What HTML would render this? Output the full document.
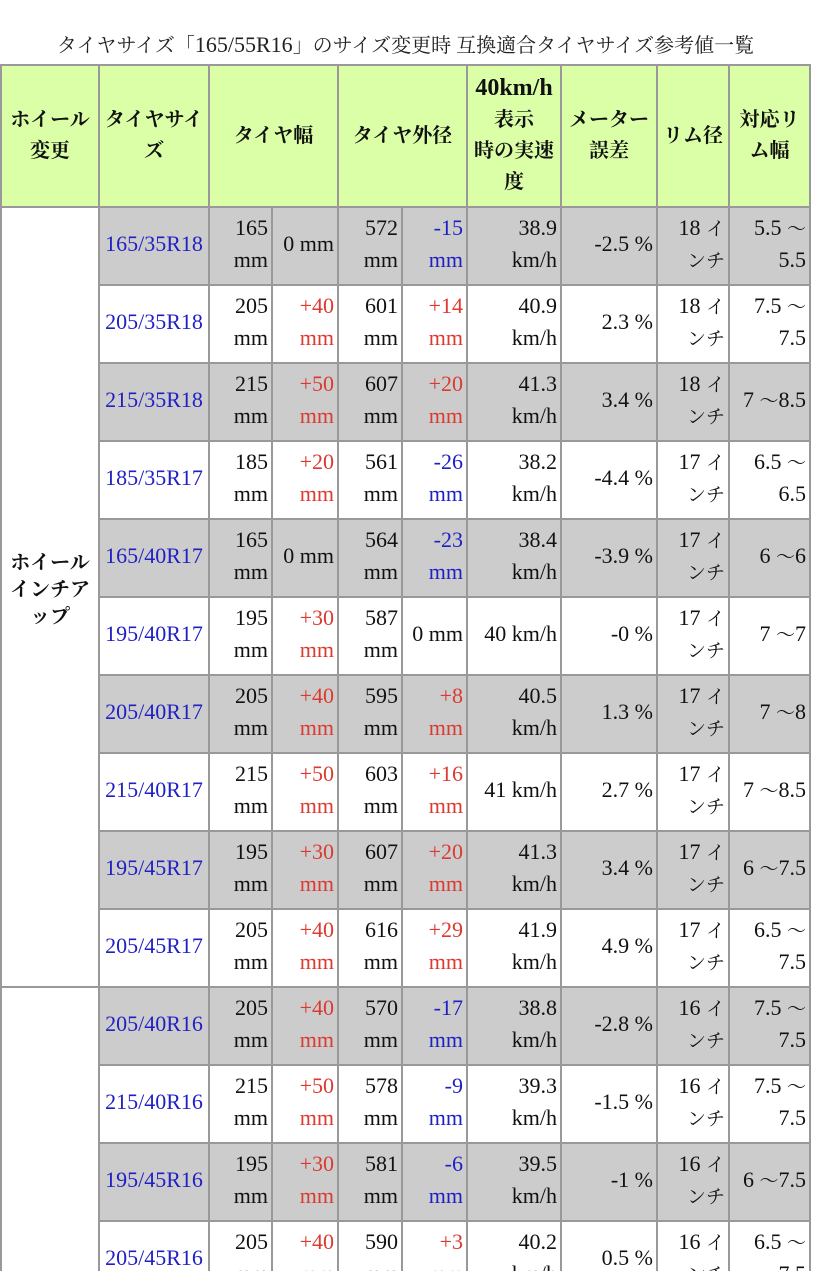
<!DOCTYPE html>
<html><head><meta charset="utf-8">
<style>
html,body{margin:0;padding:0;background:#fff;overflow:hidden;width:828px;height:1271px;}
#wrap{position:relative;width:828px;height:1271px;overflow:hidden;background:#fff;}
.title{position:absolute;top:30px;left:0;width:811px;text-align:center;font:20px/30px "Liberation Serif","Noto Serif CJK SC",serif;color:#222;white-space:nowrap;}
.hbg{position:absolute;left:0;top:64px;width:811px;height:144px;background:#dbffa7;}
.h{position:absolute;top:66px;height:140px;display:flex;align-items:center;justify-content:center;text-align:center;font:bold 20px/31px "Liberation Serif","Noto Serif CJK SC",serif;color:#111;white-space:nowrap;}
.lt{position:absolute;left:2px;width:96px;text-align:center;font:bold 20px/27px "Liberation Serif","Noto Serif CJK SC",serif;color:#111;white-space:nowrap;}
.row{position:absolute;left:98px;width:713px;height:78px;font:22px/32px "Liberation Serif","Noto Serif CJK SC",serif;color:#111;}
.g{background:#cccccc;}
.c{position:absolute;top:2px;height:76px;display:flex;align-items:center;justify-content:flex-end;box-sizing:border-box;padding:0 3px 4px 0;text-align:right;white-space:nowrap;}
.c1{left:2px;width:108px;justify-content:center;padding-right:0;}
.c2{left:112px;width:61px;}
.c3{left:175px;width:64px;}
.c4{left:241px;width:62px;}
.c5{left:305px;width:63px;}
.c6{left:370px;width:92px;}
.c7{left:464px;width:94px;}
.c8{left:560px;width:70px;}
.c9{left:632px;width:79px;}
.lk{color:#1f1fc4;}
.b{color:#1f1fc4;}
.r{color:#dc3a30;}
.j{font-size:19px;line-height:1;}
.v{position:absolute;width:2px;background:#999;}
.hl{position:absolute;height:2px;background:#999;}
</style></head><body>
<div id="wrap">

<div class="title">タイヤサイズ「<span style="font-size:22px">165/55R16</span>」のサイズ変更時 互換適合タイヤサイズ参考値一覧</div>

<div class="hbg"></div>
<div class="h" style="left:2px;width:96px"><div>ホイール<br>変更</div></div>
<div class="h" style="left:100px;width:108px"><div>タイヤサイ<br>ズ</div></div>
<div class="h" style="left:210px;width:127px"><div>タイヤ幅</div></div>
<div class="h" style="left:339px;width:127px"><div>タイヤ外径</div></div>
<div class="h" style="left:468px;width:92px"><div><span style="font-size:24px;line-height:1">40km/h</span><br>表示<br>時の実速<br>度</div></div>
<div class="h" style="left:562px;width:94px"><div>メーター<br>誤差</div></div>
<div class="h" style="left:658px;width:70px"><div>リム径</div></div>
<div class="h" style="left:730px;width:79px"><div>対応リ<br>ム幅</div></div>

<div class="lt" style="top:550px">ホイール<br>インチア<br>ップ</div>

<div class="row g" style="top:206px">
<div class="c c1"><div class="lk">165/35R18</div></div>
<div class="c c2"><div>165<br>mm</div></div>
<div class="c c3"><div>0 mm</div></div>
<div class="c c4"><div>572<br>mm</div></div>
<div class="c c5 b"><div>-15<br>mm</div></div>
<div class="c c6"><div>38.9<br>km/h</div></div>
<div class="c c7"><div>-2.5 %</div></div>
<div class="c c8"><div>18 <span class="j">イ</span><br><span class="j">ンチ</span></div></div>
<div class="c c9"><div>5.5 <span class="j">～</span><br>5.5</div></div>
</div>

<div class="row" style="top:284px">
<div class="c c1"><div class="lk">205/35R18</div></div>
<div class="c c2"><div>205<br>mm</div></div>
<div class="c c3 r"><div>+40<br>mm</div></div>
<div class="c c4"><div>601<br>mm</div></div>
<div class="c c5 r"><div>+14<br>mm</div></div>
<div class="c c6"><div>40.9<br>km/h</div></div>
<div class="c c7"><div>2.3 %</div></div>
<div class="c c8"><div>18 <span class="j">イ</span><br><span class="j">ンチ</span></div></div>
<div class="c c9"><div>7.5 <span class="j">～</span><br>7.5</div></div>
</div>

<div class="row g" style="top:362px">
<div class="c c1"><div class="lk">215/35R18</div></div>
<div class="c c2"><div>215<br>mm</div></div>
<div class="c c3 r"><div>+50<br>mm</div></div>
<div class="c c4"><div>607<br>mm</div></div>
<div class="c c5 r"><div>+20<br>mm</div></div>
<div class="c c6"><div>41.3<br>km/h</div></div>
<div class="c c7"><div>3.4 %</div></div>
<div class="c c8"><div>18 <span class="j">イ</span><br><span class="j">ンチ</span></div></div>
<div class="c c9"><div>7 <span class="j">～</span>8.5</div></div>
</div>

<div class="row" style="top:440px">
<div class="c c1"><div class="lk">185/35R17</div></div>
<div class="c c2"><div>185<br>mm</div></div>
<div class="c c3 r"><div>+20<br>mm</div></div>
<div class="c c4"><div>561<br>mm</div></div>
<div class="c c5 b"><div>-26<br>mm</div></div>
<div class="c c6"><div>38.2<br>km/h</div></div>
<div class="c c7"><div>-4.4 %</div></div>
<div class="c c8"><div>17 <span class="j">イ</span><br><span class="j">ンチ</span></div></div>
<div class="c c9"><div>6.5 <span class="j">～</span><br>6.5</div></div>
</div>

<div class="row g" style="top:518px">
<div class="c c1"><div class="lk">165/40R17</div></div>
<div class="c c2"><div>165<br>mm</div></div>
<div class="c c3"><div>0 mm</div></div>
<div class="c c4"><div>564<br>mm</div></div>
<div class="c c5 b"><div>-23<br>mm</div></div>
<div class="c c6"><div>38.4<br>km/h</div></div>
<div class="c c7"><div>-3.9 %</div></div>
<div class="c c8"><div>17 <span class="j">イ</span><br><span class="j">ンチ</span></div></div>
<div class="c c9"><div>6 <span class="j">～</span>6</div></div>
</div>

<div class="row" style="top:596px">
<div class="c c1"><div class="lk">195/40R17</div></div>
<div class="c c2"><div>195<br>mm</div></div>
<div class="c c3 r"><div>+30<br>mm</div></div>
<div class="c c4"><div>587<br>mm</div></div>
<div class="c c5"><div>0 mm</div></div>
<div class="c c6"><div>40 km/h</div></div>
<div class="c c7"><div>-0 %</div></div>
<div class="c c8"><div>17 <span class="j">イ</span><br><span class="j">ンチ</span></div></div>
<div class="c c9"><div>7 <span class="j">～</span>7</div></div>
</div>

<div class="row g" style="top:674px">
<div class="c c1"><div class="lk">205/40R17</div></div>
<div class="c c2"><div>205<br>mm</div></div>
<div class="c c3 r"><div>+40<br>mm</div></div>
<div class="c c4"><div>595<br>mm</div></div>
<div class="c c5 r"><div>+8<br>mm</div></div>
<div class="c c6"><div>40.5<br>km/h</div></div>
<div class="c c7"><div>1.3 %</div></div>
<div class="c c8"><div>17 <span class="j">イ</span><br><span class="j">ンチ</span></div></div>
<div class="c c9"><div>7 <span class="j">～</span>8</div></div>
</div>

<div class="row" style="top:752px">
<div class="c c1"><div class="lk">215/40R17</div></div>
<div class="c c2"><div>215<br>mm</div></div>
<div class="c c3 r"><div>+50<br>mm</div></div>
<div class="c c4"><div>603<br>mm</div></div>
<div class="c c5 r"><div>+16<br>mm</div></div>
<div class="c c6"><div>41 km/h</div></div>
<div class="c c7"><div>2.7 %</div></div>
<div class="c c8"><div>17 <span class="j">イ</span><br><span class="j">ンチ</span></div></div>
<div class="c c9"><div>7 <span class="j">～</span>8.5</div></div>
</div>

<div class="row g" style="top:830px">
<div class="c c1"><div class="lk">195/45R17</div></div>
<div class="c c2"><div>195<br>mm</div></div>
<div class="c c3 r"><div>+30<br>mm</div></div>
<div class="c c4"><div>607<br>mm</div></div>
<div class="c c5 r"><div>+20<br>mm</div></div>
<div class="c c6"><div>41.3<br>km/h</div></div>
<div class="c c7"><div>3.4 %</div></div>
<div class="c c8"><div>17 <span class="j">イ</span><br><span class="j">ンチ</span></div></div>
<div class="c c9"><div>6 <span class="j">～</span>7.5</div></div>
</div>

<div class="row" style="top:908px">
<div class="c c1"><div class="lk">205/45R17</div></div>
<div class="c c2"><div>205<br>mm</div></div>
<div class="c c3 r"><div>+40<br>mm</div></div>
<div class="c c4"><div>616<br>mm</div></div>
<div class="c c5 r"><div>+29<br>mm</div></div>
<div class="c c6"><div>41.9<br>km/h</div></div>
<div class="c c7"><div>4.9 %</div></div>
<div class="c c8"><div>17 <span class="j">イ</span><br><span class="j">ンチ</span></div></div>
<div class="c c9"><div>6.5 <span class="j">～</span><br>7.5</div></div>
</div>

<div class="row g" style="top:986px">
<div class="c c1"><div class="lk">205/40R16</div></div>
<div class="c c2"><div>205<br>mm</div></div>
<div class="c c3 r"><div>+40<br>mm</div></div>
<div class="c c4"><div>570<br>mm</div></div>
<div class="c c5 b"><div>-17<br>mm</div></div>
<div class="c c6"><div>38.8<br>km/h</div></div>
<div class="c c7"><div>-2.8 %</div></div>
<div class="c c8"><div>16 <span class="j">イ</span><br><span class="j">ンチ</span></div></div>
<div class="c c9"><div>7.5 <span class="j">～</span><br>7.5</div></div>
</div>

<div class="row" style="top:1064px">
<div class="c c1"><div class="lk">215/40R16</div></div>
<div class="c c2"><div>215<br>mm</div></div>
<div class="c c3 r"><div>+50<br>mm</div></div>
<div class="c c4"><div>578<br>mm</div></div>
<div class="c c5 b"><div>-9<br>mm</div></div>
<div class="c c6"><div>39.3<br>km/h</div></div>
<div class="c c7"><div>-1.5 %</div></div>
<div class="c c8"><div>16 <span class="j">イ</span><br><span class="j">ンチ</span></div></div>
<div class="c c9"><div>7.5 <span class="j">～</span><br>7.5</div></div>
</div>

<div class="row g" style="top:1142px">
<div class="c c1"><div class="lk">195/45R16</div></div>
<div class="c c2"><div>195<br>mm</div></div>
<div class="c c3 r"><div>+30<br>mm</div></div>
<div class="c c4"><div>581<br>mm</div></div>
<div class="c c5 b"><div>-6<br>mm</div></div>
<div class="c c6"><div>39.5<br>km/h</div></div>
<div class="c c7"><div>-1 %</div></div>
<div class="c c8"><div>16 <span class="j">イ</span><br><span class="j">ンチ</span></div></div>
<div class="c c9"><div>6 <span class="j">～</span>7.5</div></div>
</div>

<div class="row" style="top:1220px">
<div class="c c1"><div class="lk">205/45R16</div></div>
<div class="c c2"><div>205<br>mm</div></div>
<div class="c c3 r"><div>+40<br>mm</div></div>
<div class="c c4"><div>590<br>mm</div></div>
<div class="c c5 r"><div>+3<br>mm</div></div>
<div class="c c6"><div>40.2<br>km/h</div></div>
<div class="c c7"><div>0.5 %</div></div>
<div class="c c8"><div>16 <span class="j">イ</span><br><span class="j">ンチ</span></div></div>
<div class="c c9"><div>6.5 <span class="j">～</span><br>7.5</div></div>
</div>

<div class="v" style="left:0;top:64px;height:1207px"></div>
<div class="v" style="left:98px;top:64px;height:1207px"></div>
<div class="v" style="left:208px;top:64px;height:1207px"></div>
<div class="v" style="left:271px;top:206px;height:1065px"></div>
<div class="v" style="left:337px;top:64px;height:1207px"></div>
<div class="v" style="left:401px;top:206px;height:1065px"></div>
<div class="v" style="left:466px;top:64px;height:1207px"></div>
<div class="v" style="left:560px;top:64px;height:1207px"></div>
<div class="v" style="left:656px;top:64px;height:1207px"></div>
<div class="v" style="left:728px;top:64px;height:1207px"></div>
<div class="v" style="left:809px;top:64px;height:1207px"></div>

<div class="hl" style="left:0;top:64px;width:811px"></div>
<div class="hl" style="left:0;top:206px;width:811px"></div>
<div class="hl" style="left:98px;top:284px;width:713px"></div>
<div class="hl" style="left:98px;top:362px;width:713px"></div>
<div class="hl" style="left:98px;top:440px;width:713px"></div>
<div class="hl" style="left:98px;top:518px;width:713px"></div>
<div class="hl" style="left:98px;top:596px;width:713px"></div>
<div class="hl" style="left:98px;top:674px;width:713px"></div>
<div class="hl" style="left:98px;top:752px;width:713px"></div>
<div class="hl" style="left:98px;top:830px;width:713px"></div>
<div class="hl" style="left:98px;top:908px;width:713px"></div>
<div class="hl" style="left:0;top:986px;width:811px"></div>
<div class="hl" style="left:98px;top:1064px;width:713px"></div>
<div class="hl" style="left:98px;top:1142px;width:713px"></div>
<div class="hl" style="left:98px;top:1220px;width:713px"></div>

</div>
</body></html>
